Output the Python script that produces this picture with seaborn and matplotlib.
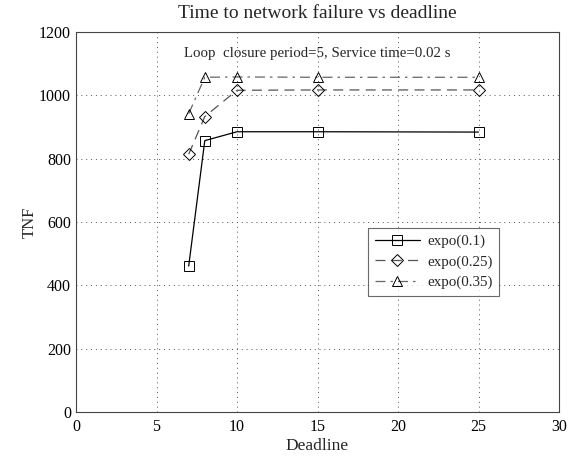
import matplotlib
matplotlib.use("Agg")
import matplotlib.pyplot as plt
import pandas as pd
import seaborn as sns

deadline = [7, 8, 10, 15, 25]
tnf_01 = [461, 857, 885, 885, 884]
tnf_025 = [814, 933, 1016, 1017, 1017]
tnf_035 = [942, 1057, 1058, 1057, 1057]
labels = ["expo(0.1)", "expo(0.25)", "expo(0.35)"]

df = pd.DataFrame({
    "Deadline": deadline * 3,
    "TNF": tnf_01 + tnf_025 + tnf_035,
    "series": [labels[0]] * 5 + [labels[1]] * 5 + [labels[2]] * 5,
})

sns.set_style("white")
plt.rcParams["font.family"] = ["Liberation Serif", "DejaVu Serif"]

fig = plt.figure(figsize=(5.77, 4.57), dpi=100)
ax = fig.add_axes([76 / 577, 1 - 412 / 457, 483 / 577, 380 / 457])

styles = {
    labels[0]: dict(color="black", ls="-", marker="s"),
    labels[1]: dict(color="#555555", ls=(0, (8, 5)), marker="D"),
    labels[2]: dict(color="#666666", ls=(0, (8, 4, 2, 4)), marker="^"),
}
for name in labels:
    st = styles[name]
    sns.lineplot(data=df[df["series"] == name], x="Deadline", y="TNF", ax=ax,
                 color=st["color"], linestyle=st["ls"], linewidth=0.9,
                 marker=st["marker"], markersize=7 if st["marker"] != "D" else 6,
                 markerfacecolor="none", markeredgecolor="black",
                 markeredgewidth=0.7, label=name)

ax.set_xlim(0, 30)
ax.set_ylim(0, 1200)
ax.set_xticks(range(0, 31, 5))
ax.set_yticks(range(0, 1201, 200))
ax.grid(True, linestyle=(0, (1, 4)), color="#555555", linewidth=0.7)
for s in ax.spines.values():
    s.set_color("#444444")
    s.set_linewidth(0.8)
ax.tick_params(direction="in", length=3, labelsize=11.5, colors="black")
ax.tick_params(axis="x", pad=5)

ax.set_title("Time to network failure vs deadline", fontsize=14, pad=10)
ax.set_xlabel("Deadline", fontsize=12.5, labelpad=2)
ax.set_ylabel("TNF", fontsize=12, labelpad=1)
ax.text(15, 1133, "Loop  closure period=5, Service time=0.02 s",
        ha="center", va="center", fontsize=10.7)

leg = ax.legend(loc="upper left", bbox_to_anchor=((368 - 76) / 483, 1 - (228 - 32) / 380),
                fontsize=10.8, frameon=True, fancybox=False, handlelength=3.0,
                handletextpad=0.5, borderpad=0.45, labelspacing=0.45, borderaxespad=0)
leg.get_frame().set_edgecolor("#444444")
leg.get_frame().set_linewidth(0.8)

fig.savefig("out.png", dpi=100)
